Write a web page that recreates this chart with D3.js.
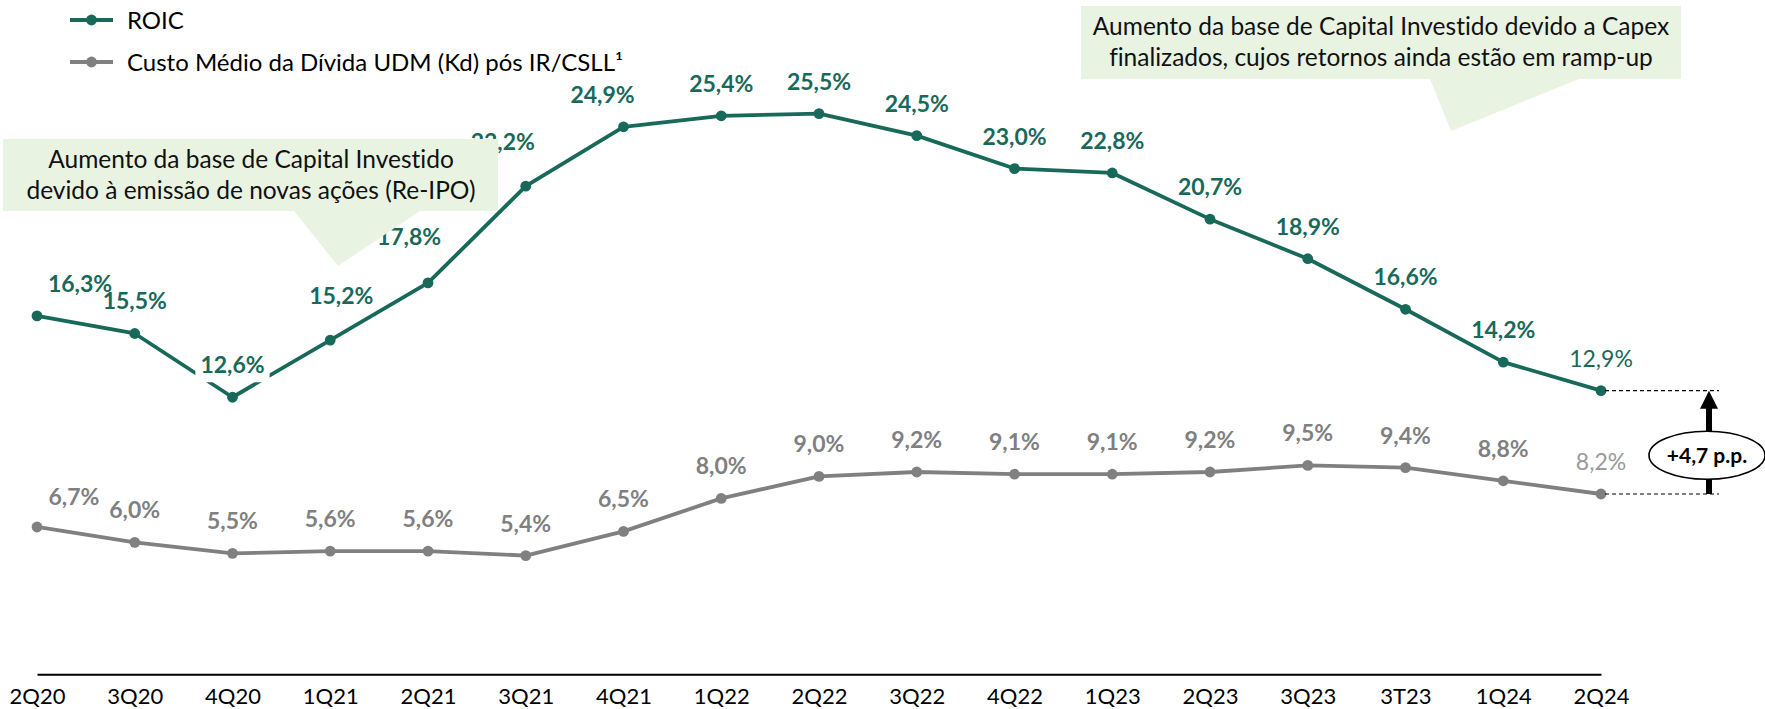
<!DOCTYPE html>
<html>
<head>
<meta charset="utf-8">
<script src="https://cdn.jsdelivr.net/npm/d3@7"></script>
<style>
  html, body { margin: 0; padding: 0; background: #ffffff; }
  svg { display: block; font-family: Lato, "Open Sans", sans-serif; }
  svg text { font-variant-ligatures: none; font-feature-settings: "liga" 0, "clig" 0; }
</style>
</head>
<body>
<svg id="chart" width="1765" height="709"></svg>
<script>
// ---------- data ----------
const categories = ["2Q20","3Q20","4Q20","1Q21","2Q21","3Q21","4Q21","1Q22","2Q22","3Q22","4Q22","1Q23","2Q23","3Q23","3T23","1Q24","2Q24"];
const roicValues = [16.3,15.5,12.6,15.2,17.8,22.2,24.9,25.4,25.5,24.5,23.0,22.8,20.7,18.9,16.6,14.2,12.9];
const kdValues   = [6.7,6.0,5.5,5.6,5.6,5.4,6.5,8.0,9.0,9.2,9.1,9.1,9.2,9.5,9.4,8.8,8.2];
const seriesNames = ["ROIC", "Custo Médio da Dívida UDM (Kd) pós IR/CSLL¹"];
const calloutLeftText = ["Aumento da base de Capital Investido", "devido à emissão de novas ações (Re-IPO)"];
const calloutRightText = ["Aumento da base de Capital Investido devido a Capex", "finalizados, cujos retornos ainda estão em ramp-up"];
const spreadText = "+4,7 p.p.";

// ---------- styles / layout ----------
const GREEN = "#19695a";
const GRAY = "#808080";
const CALLOUT = "#e9f3e2";
const fmt = v => d3.format(".1f")(v).replace(".", ",") + "%";

// label nudges (layout only): index -> [dx, extra dy]
const roicNudge = {0:[43,0], 3:[11,-12], 4:[-19,-14], 5:[-23,-12], 6:[-21,0]};
const kdNudge = {0:[37,2]};

const svg = d3.select("#chart");
const x = d3.scalePoint().domain(categories).range([37, 1601]);
const y = d3.scaleLinear().domain([0, 25.5]).range([674.3, 113.6]);

// ---------- axis ----------
const axis = svg.append("g").attr("transform", `translate(0,${y(0)})`)
  .call(d3.axisBottom(x).tickSize(0).tickSizeOuter(0));
axis.select(".domain").attr("stroke", "#000").attr("stroke-width", 2);
axis.selectAll(".tick text")
  .attr("y", 30).attr("dy", 0)
  .attr("font-family", "Lato").attr("font-size", 22).attr("fill", "#000");

// ---------- series ----------
function drawSeries(values, color) {
  const line = d3.line().x((d, i) => x(categories[i])).y(d => y(d));
  svg.append("path").datum(values)
    .attr("d", line).attr("fill", "none")
    .attr("stroke", color).attr("stroke-width", 3.8).attr("stroke-linejoin", "round");
  svg.append("g").selectAll("circle").data(values).join("circle")
    .attr("cx", (d, i) => x(categories[i])).attr("cy", d => y(d))
    .attr("r", 5.4).attr("fill", color);
}
drawSeries(kdValues, GRAY);
drawSeries(roicValues, GREEN);

function drawLabels(values, color, lastColor, nudge, whiteBgIndex) {
  const g = svg.append("g");
  values.forEach((v, i) => {
    const n = nudge[i] || [0, 0];
    const last = i === values.length - 1;
    const t = g.append("text")
      .attr("x", x(categories[i]) + n[0])
      .attr("y", y(v) - 24 + n[1])
      .attr("text-anchor", "middle")
      .attr("font-size", 23)
      .attr("font-weight", last ? 400 : 700)
      .attr("fill", last ? lastColor : color)
      .text(fmt(v));
    if (i === whiteBgIndex) {
      const b = t.node().getBBox();
      g.insert("rect", () => t.node())
        .attr("x", b.x - 5).attr("y", b.y - 2)
        .attr("width", b.width + 10).attr("height", b.height + 6)
        .attr("fill", "#fff");
    }
  });
}
drawLabels(kdValues, GRAY, "#9a9a9a", kdNudge, -1);
drawLabels(roicValues, GREEN, GREEN, roicNudge, 2);

// ---------- legend ----------
const legend = svg.append("g");
[[GREEN, 20], [GRAY, 62]].forEach(([c, ly], i) => {
  legend.append("line").attr("x1", 70).attr("x2", 113).attr("y1", ly).attr("y2", ly)
    .attr("stroke", c).attr("stroke-width", 3.8);
  legend.append("circle").attr("cx", 91.5).attr("cy", ly).attr("r", 5.4).attr("fill", c);
  legend.append("text").attr("x", 127).attr("y", ly).attr("dy", "0.36em")
    .attr("font-size", 24).attr("fill", "#000").text(seriesNames[i]);
});

// ---------- callouts ----------
function callout(rx0, ry0, rx1, ry1, tri, lines, cx) {
  const g = svg.append("g");
  const pts = [[rx0, ry0], [rx1, ry0], [rx1, ry1], [tri[1], ry1], [tri[2], tri[3]], [tri[0], ry1], [rx0, ry1]];
  g.append("path").attr("d", "M" + pts.map(p => p.join(",")).join("L") + "Z").attr("fill", CALLOUT);
  lines.forEach((s, i) => {
    g.append("text").attr("x", cx).attr("y", ry0 + 29 + i * 31)
      .attr("text-anchor", "middle").attr("font-size", 24.5).attr("fill", "#111").text(s);
  });
}
callout(3, 139, 498, 211, [294, 420, 338, 266], calloutLeftText, 251);
callout(1081, 6, 1681, 79, [1430, 1579, 1451, 131], calloutRightText, 1381);

// ---------- spread annotation ----------
const lastCat = categories[categories.length - 1];
const yTop = y(roicValues[roicValues.length - 1]);
const yBot = y(kdValues[kdValues.length - 1]);
const ax = 1709;
[yTop, yBot].forEach(yy => {
  svg.append("line").attr("x1", x(lastCat) + 4).attr("x2", 1719).attr("y1", yy).attr("y2", yy)
    .attr("stroke", "#000").attr("stroke-width", 1.2).attr("stroke-dasharray", "4,3");
});
svg.append("line").attr("x1", ax).attr("x2", ax).attr("y1", yBot).attr("y2", yTop + 16)
  .attr("stroke", "#000").attr("stroke-width", 6);
svg.append("path")
  .attr("d", `M${ax},${yTop}L${ax + 9},${yTop + 18}L${ax - 9},${yTop + 18}Z`)
  .attr("fill", "#000");
const ecy = (yTop + yBot) / 2 + 13;
svg.append("ellipse").attr("cx", 1707).attr("cy", ecy).attr("rx", 58).attr("ry", 24)
  .attr("fill", "#fff").attr("stroke", "#000").attr("stroke-width", 1.6);
svg.append("text").attr("x", 1707).attr("y", ecy).attr("dy", "0.36em")
  .attr("text-anchor", "middle").attr("font-size", 21).attr("font-weight", 700)
  .attr("fill", "#000").text(spreadText);
</script>
</body>
</html>
